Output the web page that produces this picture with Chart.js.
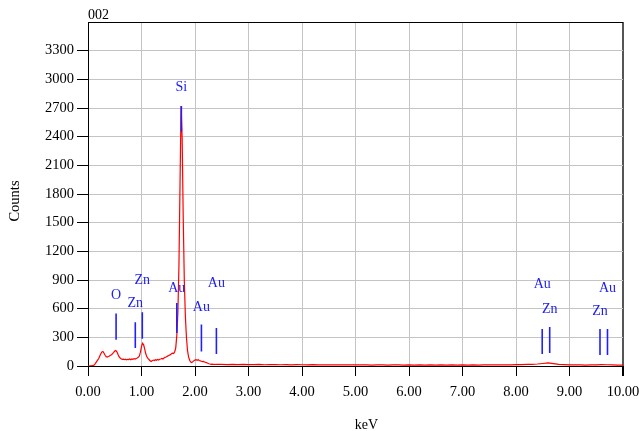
<!DOCTYPE html>
<html lang="en">
<head>
<meta charset="UTF-8" />
<title>EDS spectrum 002</title>
<style>
  body { margin: 0; background: #fff; }
  #spec { display: block; }
</style>
</head>
<body>
<canvas id="spec" width="639" height="431"></canvas>
<script src="https://cdn.jsdelivr.net/npm/chart.js"></script>
<script>
  // spectrum counts, 0.00 - 2.40 keV every 0.02 keV
  const lowCounts = [
    0, 0, 1, 2, 3, 6, 12, 28, 46, 62,
    78, 104, 128, 146, 152, 134, 112, 98, 94, 99,
    104, 112, 118, 130, 142, 156, 162, 148, 122, 98,
    84, 76, 70, 72, 66, 71, 64, 70, 67, 73,
    66, 74, 70, 76, 72, 79, 84, 90, 104, 145,
    205, 238, 222, 176, 128, 96, 80, 68, 54, 47,
    56, 62, 57, 66, 60, 68, 63, 71, 73, 79,
    74, 83, 90, 94, 101, 107, 113, 119, 128, 134,
    131, 147, 190, 320, 560, 1050, 1900, 2720, 2380, 1550,
    900, 520, 300, 160, 95, 60, 42, 36, 46, 56,
    63, 66, 60, 65, 58, 53, 50, 45, 48, 42,
    38, 34, 28, 24, 21, 18, 19, 17, 18, 16,
    17
  ];
  // spectrum counts, 2.5 - 10.0 keV every 0.1 keV
  const highCounts = [
    16, 15, 17, 14, 16, 15, 14, 16, 13, 15,
    14, 13, 15, 12, 14, 13, 12, 14, 12, 13,
    11, 13, 12, 11, 13, 12, 11, 12, 10, 12,
    11, 10, 12, 11, 10, 11, 10, 12, 10, 11,
    10, 11, 9, 11, 10, 12, 10, 11, 10, 12,
    11, 12, 11, 13, 12, 14, 15, 16, 18, 21,
    26, 32, 24, 17, 14, 12, 11, 12, 10, 11,
    12, 14, 13, 11, 10, 10
  ];

  // element line markers
  const markerLabels = ['O', 'Zn', 'Zn', 'Au', 'Si', 'Au', 'Au', 'Au', 'Zn', 'Zn', 'Au'];
  const markerEnergy = [0.525, 0.884, 1.015, 1.66, 1.745, 2.12, 2.40, 8.49, 8.63, 9.57, 9.71];
  const markerTop = [550, 457, 563, 660, 2720, 433, 398, 386, 407, 386, 386];
  const markerBottom = [276, 189, 286, 345, 2453, 153, 126, 125, 136, 115, 115];
  const markerLabelY = [737, 660, 894, 817, 2917, 614, 860, 852, 597, 572, 817];

  const TITLE = '002';
  const X_TITLE = 'keV';
  const Y_TITLE = 'Counts';
  const Y_MAX = 3600;

  const serif = 'Liberation Serif, Times New Roman, serif';

  const spectrum = [];
  lowCounts.forEach((c, i) => spectrum.push({x: +(i * 0.02).toFixed(2), y: c}));
  highCounts.forEach((c, i) => spectrum.push({x: +(2.5 + i * 0.1).toFixed(1), y: c}));

  const markers = [];
  markerEnergy.forEach((e, i) => {
    markers.push({x: e, y: markerTop[i]});
    markers.push({x: e, y: markerBottom[i]});
    markers.push({x: e, y: null});
  });

  const textPlugin = {
    id: 'texts',
    afterDraw(chart) {
      const {ctx, chartArea, scales} = chart;
      ctx.save();
      ctx.font = '14px ' + serif;
      ctx.fillStyle = '#000';
      ctx.textAlign = 'left';
      ctx.textBaseline = 'alphabetic';
      ctx.fillText(TITLE, chartArea.left, 18.5);

      ctx.textAlign = 'center';
      ctx.fillText(X_TITLE, 366.5, 429);

      ctx.save();
      ctx.translate(15, 201);
      ctx.rotate(-Math.PI / 2);
      ctx.font = '14.5px ' + serif;
      ctx.textBaseline = 'middle';
      ctx.fillText(Y_TITLE, 0, 0);
      ctx.restore();

      ctx.fillStyle = '#2020f0';
      ctx.textBaseline = 'middle';
      markerLabels.forEach((lab, i) => {
        ctx.fillText(lab, scales.x.getPixelForValue(markerEnergy[i]),
                     scales.y.getPixelForValue(markerLabelY[i]));
      });
      ctx.restore();
    }
  };

  new Chart(document.getElementById('spec').getContext('2d'), {
    type: 'line',
    data: {
      datasets: [
        {
          data: markers,
          borderColor: '#2020ff',
          borderWidth: 1.6,
          pointRadius: 0,
          spanGaps: false
        },
        {
          data: spectrum,
          borderColor: '#ff0000',
          borderWidth: 1.2,
          pointRadius: 0,
          tension: 0
        }
      ]
    },
    options: {
      responsive: false,
      animation: false,
      layout: {padding: {top: 22, right: 16, left: 0, bottom: 0}},
      plugins: {legend: {display: false}, tooltip: {enabled: false}},
      scales: {
        x: {
          type: 'linear',
          min: 0,
          max: 10,
          afterFit: s => { s.height = 65; s.paddingLeft = 0; s.paddingRight = 0; },
          ticks: {
            stepSize: 1,
            autoSkip: false,
            maxRotation: 0,
            padding: 7,
            color: '#000',
            font: {family: serif, size: 14.5},
            callback: v => v.toFixed(2)
          },
          grid: {
            color: c => c.tick && c.tick.value === 10 ? '#555' : '#c4c4c4',
            lineWidth: c => c.tick && c.tick.value === 10 ? 2 : 1,
            tickColor: '#000',
            tickLength: 10
          },
          border: {color: '#000', width: 1}
        },
        y: {
          min: 0,
          max: Y_MAX,
          afterFit: s => { s.width = 88; s.paddingTop = 0; s.paddingBottom = 0; },
          ticks: {
            stepSize: 300,
            autoSkip: false,
            padding: 3,
            color: '#000',
            font: {family: serif, size: 14.5},
            callback: v => v === Y_MAX ? '' : v
          },
          grid: {
            color: c => c.tick && c.tick.value === Y_MAX ? '#000' : '#c4c4c4',
            tickColor: c => c.tick && c.tick.value === Y_MAX ? 'rgba(0,0,0,0)' : '#000',
            tickLength: 11
          },
          border: {color: '#000', width: 1}
        }
      }
    },
    plugins: [textPlugin]
  });
</script>
</body>
</html>
